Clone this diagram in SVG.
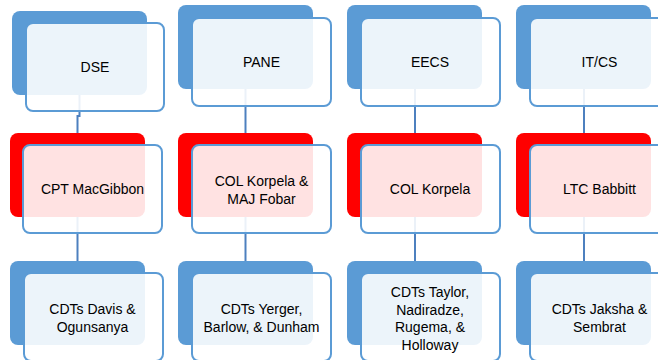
<svg xmlns="http://www.w3.org/2000/svg" width="658" height="360" viewBox="0 0 658 360">
<style>
.bb{fill:#5B9BD5}
.rb{fill:#FF0000}
.fr{fill:#FFFFFF;fill-opacity:0.885;stroke:#5B9BD5;stroke-width:2}
.t{font-family:"Liberation Sans",Arial,sans-serif;font-size:14px;fill:#000;text-anchor:middle}
.c{fill:none;stroke:#4D80BF;stroke-width:2}
</style>
<rect width="658" height="360" fill="#FFFFFF"/>
<g id="connectors">
<path class="c" d="M79.5,95 V116 H77.5 V133"/>
<path class="c" d="M77.5,217 V261"/>
<path class="c" d="M245.5,89 V133"/>
<path class="c" d="M245.5,217 V261"/>
<path class="c" d="M415,89 V133"/>
<path class="c" d="M415,217 V261"/>
<path class="c" d="M584,89 V133"/>
<path class="c" d="M584,217 V261"/>
</g>
<g id="dse">
<rect class="bb" x="12" y="11" width="135" height="84" rx="8"/>
<rect class="fr" x="26" y="23" width="138" height="88" rx="7"/>
<text class="t" x="95" y="72">DSE</text>
</g>
<g id="pane">
<rect class="bb" x="178" y="5" width="135" height="84" rx="8"/>
<rect class="fr" x="192" y="18" width="139" height="88" rx="7"/>
<text class="t" x="261.5" y="67">PANE</text>
</g>
<g id="eecs">
<rect class="bb" x="347" y="5" width="135" height="84" rx="8"/>
<rect class="fr" x="361" y="18" width="139" height="88" rx="7"/>
<text class="t" x="430" y="67">EECS</text>
</g>
<g id="itcs">
<rect class="bb" x="516" y="5" width="135" height="84" rx="8"/>
<rect class="fr" x="530" y="18" width="139" height="88" rx="7"/>
<text class="t" x="599.5" y="67">IT/CS</text>
</g>
<g id="macgibbon">
<rect class="rb" x="10" y="133" width="135" height="84" rx="8"/>
<rect class="fr" x="23" y="145" width="139" height="88" rx="7"/>
<text class="t" x="92.5" y="194">CPT MacGibbon</text>
</g>
<g id="korpela-fobar">
<rect class="rb" x="178" y="133" width="135" height="84" rx="8"/>
<rect class="fr" x="192" y="145" width="139" height="88" rx="7"/>
<text class="t" x="261.5" y="186">COL Korpela &amp;</text>
<text class="t" x="261.5" y="204">MAJ Fobar</text>
</g>
<g id="korpela">
<rect class="rb" x="347" y="133" width="135" height="84" rx="8"/>
<rect class="fr" x="361" y="145" width="139" height="88" rx="7"/>
<text class="t" x="430" y="194">COL Korpela</text>
</g>
<g id="babbitt">
<rect class="rb" x="516" y="133" width="135" height="84" rx="8"/>
<rect class="fr" x="530" y="145" width="139" height="88" rx="7"/>
<text class="t" x="599.5" y="194">LTC Babbitt</text>
</g>
<g id="davis">
<rect class="bb" x="10" y="261" width="135" height="84" rx="8"/>
<rect class="fr" x="24" y="273" width="139" height="88" rx="7"/>
<text class="t" x="92.5" y="314">CDTs Davis &amp;</text>
<text class="t" x="92.5" y="332">Ogunsanya</text>
</g>
<g id="yerger">
<rect class="bb" x="178" y="261" width="135" height="84" rx="8"/>
<rect class="fr" x="192" y="273" width="139" height="88" rx="7"/>
<text class="t" x="261.5" y="314">CDTs Yerger,</text>
<text class="t" x="261.5" y="332">Barlow, &amp; Dunham</text>
</g>
<g id="taylor">
<rect class="bb" x="347" y="261" width="135" height="84" rx="8"/>
<rect class="fr" x="361" y="273" width="139" height="88" rx="7"/>
<text class="t" x="430" y="297">CDTs Taylor,</text>
<text class="t" x="430" y="314.5">Nadiradze,</text>
<text class="t" x="430" y="332">Rugema, &amp;</text>
<text class="t" x="430" y="349.5">Holloway</text>
</g>
<g id="jaksha">
<rect class="bb" x="516" y="261" width="135" height="84" rx="8"/>
<rect class="fr" x="530" y="273" width="139" height="88" rx="7"/>
<text class="t" x="599.5" y="314">CDTs Jaksha &amp;</text>
<text class="t" x="599.5" y="332">Sembrat</text>
</g>
</svg>
